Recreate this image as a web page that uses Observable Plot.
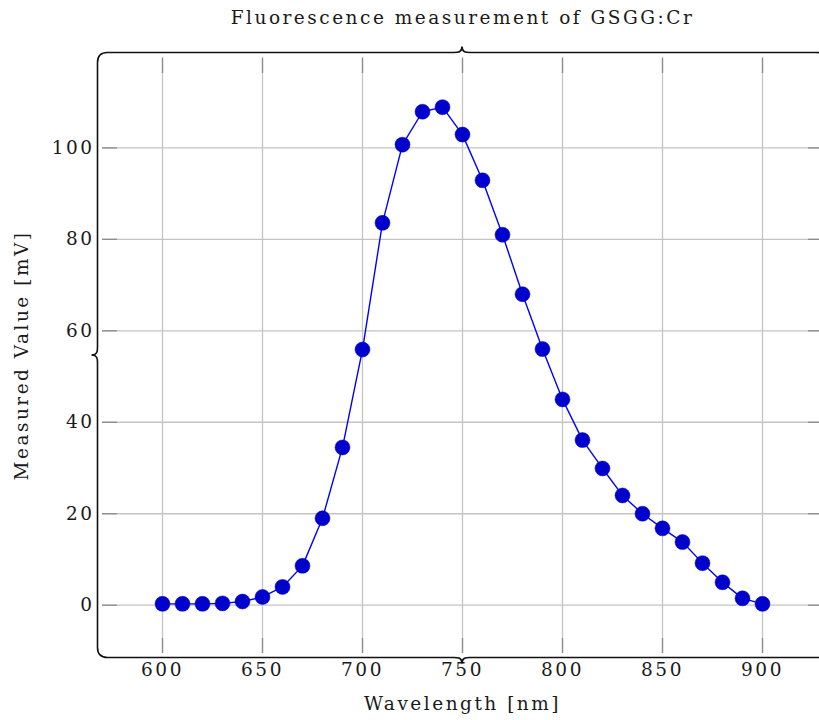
<!DOCTYPE html>
<html>
<head>
<meta charset="utf-8">
<script src="https://cdn.jsdelivr.net/npm/d3@7"></script>
<script src="https://cdn.jsdelivr.net/npm/@observablehq/plot@0.6"></script>
<style>
  html, body { margin: 0; padding: 0; background: #fff; overflow: hidden; }
  #chart svg { display: block; overflow: visible; max-width: none !important; }
  #chart svg text { letter-spacing: 2.5px; }
</style>
</head>
<body>
<div id="chart"></div>
<script>
// Fluorescence spectrum of GSGG:Cr, sampled every 10 nm
const wavelength = [600, 610, 620, 630, 640, 650, 660, 670, 680, 690, 700, 710, 720, 730, 740, 750,
                    760, 770, 780, 790, 800, 810, 820, 830, 840, 850, 860, 870, 880, 890, 900];
const measured = [0.3, 0.3, 0.3, 0.4, 0.8, 1.8, 4.0, 8.6, 19.0, 34.5, 55.9, 83.6, 100.7, 107.9, 108.9, 102.9,
                  92.9, 81.0, 68.0, 56.0, 45.0, 36.1, 29.9, 24.0, 20.0, 16.8, 13.8, 9.2, 5.0, 1.5, 0.3];
const xTicks = [600, 650, 700, 750, 800, 850, 900];
const yTicks = [0, 20, 40, 60, 80, 100];
const titleText = "Fluorescence measurement of GSGG:Cr";
const xLabel = "Wavelength [nm]";
const yLabel = "Measured Value [mV]";

const points = wavelength.map((w, i) => ({w, v: measured[i]}));

// axis limits widened by 10% of the data range on each side
function enlarge(values, f = 0.1) {
  const [lo, hi] = d3.extent(values);
  const pad = (hi - lo) * f;
  return [lo - pad, hi + pad];
}

const font = "'DejaVu Serif', serif";
const fontSize = 18.5;
const ink = "#1a1a1a";
const gridColor = "#c4c4c4";
const tickColor = "#8c8c8c";

// rounded frame with small braces at the middle of each side
function braceFrame(index, scales, values, dim) {
  const {width, height, marginLeft, marginRight, marginTop, marginBottom} = dim;
  const o = 4.5, r = 10, a = 6, w = 8;
  const L = marginLeft - o, R = width - marginRight + o;
  const T = marginTop - o, B = height - marginBottom + o;
  const cx = (L + R) / 2, cy = (T + B) / 2;
  const d = [
    `M${L},${T + r}`, `Q${L},${T} ${L + r},${T}`,
    `L${cx - w},${T}`, `C${cx - w / 2},${T} ${cx},${T} ${cx},${T - a}`,
    `C${cx},${T} ${cx + w / 2},${T} ${cx + w},${T}`,
    `L${R - r},${T}`, `Q${R},${T} ${R},${T + r}`,
    `L${R},${cy - w}`, `C${R},${cy - w / 2} ${R},${cy} ${R + a},${cy}`,
    `C${R},${cy} ${R},${cy + w / 2} ${R},${cy + w}`,
    `L${R},${B - r}`, `Q${R},${B} ${R - r},${B}`,
    `L${cx + w},${B}`, `C${cx + w / 2},${B} ${cx},${B} ${cx},${B + a}`,
    `C${cx},${B} ${cx - w / 2},${B} ${cx - w},${B}`,
    `L${L + r},${B}`, `Q${L},${B} ${L},${B - r}`,
    `L${L},${cy + w}`, `C${L},${cy + w / 2} ${L},${cy} ${L - a},${cy}`,
    `C${L},${cy} ${L},${cy - w / 2} ${L},${cy - w}`, "Z"
  ].join("");
  return d3.create("svg:path")
    .attr("d", d)
    .attr("fill", "none")
    .attr("stroke", "#111")
    .attr("stroke-width", 1.6)
    .node();
}

const chart = Plot.plot({
  width: 822,
  height: 720,
  marginTop: 57,
  marginBottom: 67,
  marginLeft: 102,
  marginRight: 0,
  style: {fontFamily: font, fontSize: `${fontSize}px`, color: ink, background: "#fff"},
  x: {domain: enlarge(wavelength), ticks: xTicks},
  y: {domain: enlarge(measured), ticks: yTicks},
  marks: [
    Plot.gridX(xTicks, {stroke: gridColor, strokeOpacity: 1, strokeWidth: 1.3}),
    Plot.gridY(yTicks, {stroke: gridColor, strokeOpacity: 1, strokeWidth: 1.3}),
    // inward tick marks on all four sides
    Plot.axisX(xTicks, {anchor: "bottom", tickSize: -15, stroke: tickColor, strokeWidth: 1.3, tickFormat: () => "", label: null}),
    Plot.axisX(xTicks, {anchor: "top", tickSize: -15, stroke: tickColor, strokeWidth: 1.3, tickFormat: () => "", label: null}),
    Plot.axisY(yTicks, {anchor: "left", tickSize: -15, stroke: tickColor, strokeWidth: 1.3, tickFormat: () => "", label: null}),
    Plot.axisY(yTicks, {anchor: "right", tickSize: -15, stroke: tickColor, strokeWidth: 1.3, tickFormat: () => "", label: null}),
    // tick labels
    Plot.axisX(xTicks, {anchor: "bottom", tickSize: 0, tickPadding: 9, label: null, fontSize, fill: ink}),
    Plot.axisY(yTicks, {anchor: "left", tickSize: 0, tickPadding: 8, label: null, fontSize, fill: ink}),
    braceFrame,
    Plot.line(points, {x: "w", y: "v", stroke: "#0000ff", strokeWidth: 1.4}),
    Plot.dot(points, {x: "w", y: "v", r: 7.5, fill: "#0000cc", stroke: "#0000cc", strokeWidth: 0.5}),
    Plot.text([titleText], {frameAnchor: "top", lineAnchor: "middle", dy: -39, fontSize, fill: ink}),
    Plot.text([xLabel], {frameAnchor: "bottom", lineAnchor: "middle", dy: 51, fontSize, fill: ink}),
    Plot.text([yLabel], {frameAnchor: "left", lineAnchor: "middle", textAnchor: "middle", dx: -80, rotate: -90, fontSize, fill: ink})
  ]
});

document.getElementById("chart").appendChild(chart);
</script>
</body>
</html>
